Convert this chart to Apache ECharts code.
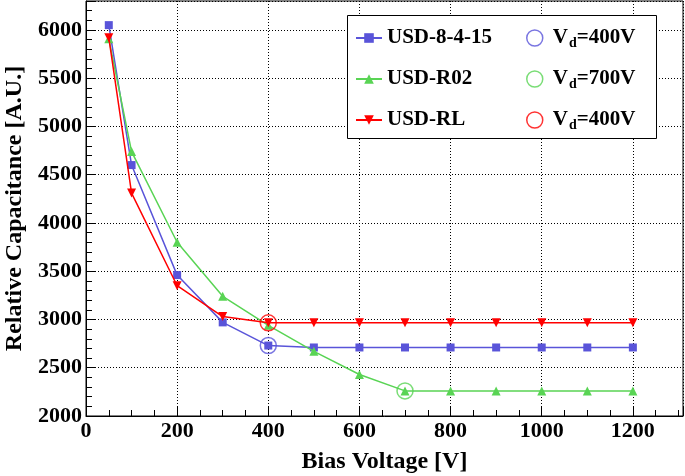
<!DOCTYPE html>
<html>
<head>
<meta charset="utf-8">
<script src="https://cdn.jsdelivr.net/npm/echarts@6/dist/echarts.min.js"></script>
<style>html,body{margin:0;padding:0;background:#fff}#c{width:685px;height:476px}</style>
</head>
<body>
<div id="c"></div>
<script>
const voltages = [50, 100, 200, 300, 400, 500, 600, 700, 800, 900, 1000, 1100, 1200];
const usd8415 = [6050, 4600, 3460, 2970, 2730, 2710, 2710, 2710, 2710, 2710, 2710, 2710, 2710];
const usdR02 = [5910, 4740, 3800, 3240, 2940, 2670, 2430, 2260, 2260, 2260, 2260, 2260, 2260];
const usdRL = [5920, 4310, 3350, 3030, 2965, 2965, 2965, 2965, 2965, 2965, 2965, 2965, 2965];
const seriesNames = ['USD-8-4-15', 'USD-R02', 'USD-RL'];
const depletionV = [400, 700, 400];
const depletionC = [2730, 2260, 2965];
const depletionLabels = ['400V', '700V', '400V'];
const colors = ['#5954d9', '#59d454', '#ff0000'];

const FONT = 'Liberation Serif';
const chart = echarts.init(document.getElementById('c'), null, {renderer: 'canvas'});

function pairs(ys) { return voltages.map((v, i) => [v, ys[i]]); }

const lineData = [usd8415, usdR02, usdRL];
const symbols = ['rect', 'triangle', 'triangle'];
const symSizes = [8, 9, 9];
const symRot = [0, 0, 180];

const series = lineData.map((ys, i) => ({
  name: seriesNames[i],
  type: 'line',
  data: pairs(ys),
  symbol: symbols[i],
  symbolSize: symSizes[i],
  symbolRotate: symRot[i],
  showAllSymbol: true,
  lineStyle: {color: colors[i], width: 1.5},
  itemStyle: {color: colors[i]},
  emphasis: {disabled: true},
  z: 3 + i
}));
const circleNames = ['c0', 'c1', 'c2'];
depletionV.forEach((v, i) => {
  series.push({
    name: circleNames[i],
    type: 'scatter',
    data: [[v, depletionC[i]]],
    symbol: 'circle',
    symbolSize: 16,
    itemStyle: {color: 'rgba(0,0,0,0)', borderColor: colors[i], borderWidth: 1.5},
    emphasis: {disabled: true},
    z: 7
  });
});

const labelStyle = {fontFamily: FONT, fontWeight: 'bold', fontSize: 22, color: '#000', margin: 4, showMaxLabel: false,
  formatter: (v) => String(v)};

const option = {
  backgroundColor: '#fff',
  animation: false,
  grid: {left: 86, top: 1, right: 2, bottom: 60, containLabel: false, outerBoundsMode: 'none',
    show: true, borderColor: '#000', borderWidth: 1, backgroundColor: 'transparent'},
  xAxis: {
    type: 'value', min: 0, max: 1310, interval: 200,
    name: 'Bias Voltage [V]', nameLocation: 'middle', nameGap: 34,
    nameTextStyle: {fontFamily: FONT, fontWeight: 'bold', fontSize: 24, color: '#000'},
    axisLine: {show: true, lineStyle: {color: '#000', width: 1}},
    axisTick: {show: true, inside: true, length: 10, lineStyle: {color: '#000'}},
    minorTick: {show: true, splitNumber: 4, length: 6, lineStyle: {color: '#000'}},
    axisLabel: labelStyle,
    splitLine: {show: true, lineStyle: {color: '#000', type: [1, 2], width: 1}}
  },
  yAxis: {
    type: 'value', min: 2000, max: 6300, interval: 500,
    name: 'Relative Capacitance [A.U.]', nameLocation: 'middle', nameGap: 59,
    nameTextStyle: {fontFamily: FONT, fontWeight: 'bold', fontSize: 24, color: '#000'},
    axisLine: {show: true, lineStyle: {color: '#000', width: 1}},
    axisTick: {show: true, inside: true, length: 10, lineStyle: {color: '#000'}},
    minorTick: {show: true, splitNumber: 5, length: 6, lineStyle: {color: '#000'}},
    axisLabel: labelStyle,
    splitLine: {show: true, lineStyle: {color: '#000', type: [1, 2], width: 1}}
  },
  graphic: [{
    type: 'rect', left: 347, top: 15, z: 10,
    shape: {width: 309, height: 123},
    style: {fill: '#fff', stroke: '#000', lineWidth: 1}
  }],
  legend: [{
    data: seriesNames, orient: 'vertical', left: 355, top: 26, z: 20, padding: 0,
    itemWidth: 26, itemHeight: 12, itemGap: 17,
    textStyle: {fontFamily: FONT, fontWeight: 'bold', fontSize: 21, color: '#000', lineHeight: 24},
    selectedMode: false
  }, {
    data: circleNames.map((n, i) => ({name: n, icon: 'circle',
      itemStyle: {color: 'rgba(0,0,0,0)', borderColor: colors[i], borderWidth: 1.5}})),
    orient: 'vertical', left: 526, top: 26, z: 20, padding: 0,
    itemWidth: 26, itemHeight: 16, itemGap: 17,
    formatter: (name) => '{v|V}{s|d}{v|=' + depletionLabels[circleNames.indexOf(name)] + '}',
    textStyle: {fontFamily: FONT, fontWeight: 'bold', fontSize: 21, color: '#000', lineHeight: 24, height: 24,
      rich: {
        v: {fontFamily: FONT, fontWeight: 'bold', fontSize: 21, color: '#000', lineHeight: 24, verticalAlign: 'middle'},
        s: {fontFamily: FONT, fontWeight: 'bold', fontSize: 14, color: '#000', lineHeight: 10, verticalAlign: 'bottom', padding: [10, 0, 0, 1]}
      }},
    selectedMode: false
  }],
  series: series
};
chart.setOption(option);
</script>
</body>
</html>
